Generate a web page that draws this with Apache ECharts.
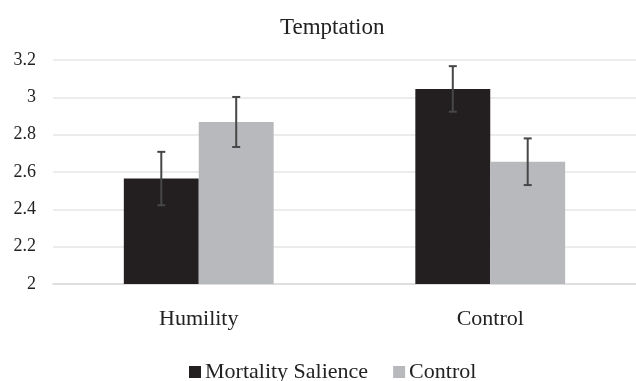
<!DOCTYPE html>
<html><head><meta charset="utf-8">
<script src="https://cdn.jsdelivr.net/npm/echarts@6/dist/echarts.min.js"></script>
<style>html,body{margin:0;padding:0;background:#fff}#c{width:636px;height:381px}</style>
</head><body><div id="c"></div>
<script>
var categories = ['Humility', 'Control'];
var seriesNames = ['Mortality Salience', 'Control'];
var msValues = [2.565, 3.045];
var controlValues = [2.868, 2.655];
var msErrors = [0.143, 0.122];
var controlErrors = [0.134, 0.125];
var yTicks = [2, 2.2, 2.4, 2.6, 2.8, 3, 3.2];

var gapPct = 48.6;
var font = 'Liberation Serif';

function errorSeries(values, errors, side) {
  return {
    type: 'custom',
    silent: true,
    z: 10,
    data: values.map(function (v, i) { return [i, v - errors[i], v + errors[i]]; }),
    renderItem: function (params, api) {
      var band = api.size([1, 0])[0];
      var barW = band * (1 - gapPct / 100) / 2;
      var c = api.coord([api.value(0), api.value(1)]);
      var x = c[0] + side * barW / 2;
      var lo = api.coord([api.value(0), api.value(1)])[1];
      var hi = api.coord([api.value(0), api.value(2)])[1];
      var cap = 4;
      var st = { stroke: '#474747', lineWidth: 2 };
      return {
        type: 'group',
        children: [
          { type: 'line', shape: { x1: x, y1: lo, x2: x, y2: hi }, style: st },
          { type: 'line', shape: { x1: x - cap, y1: lo, x2: x + cap, y2: lo }, style: st },
          { type: 'line', shape: { x1: x - cap, y1: hi, x2: x + cap, y2: hi }, style: st }
        ]
      };
    }
  };
}

var chart = echarts.init(document.getElementById('c'), null, { renderer: 'canvas' });
chart.setOption({
  animation: false,
  backgroundColor: '#fff',
  title: {
    text: 'Temptation', left: 275, top: 11,
    textStyle: { fontFamily: font, fontSize: 23, fontWeight: 'normal', color: '#222' }
  },
  legend: {
    data: seriesNames, top: 356, left: 184,
    itemWidth: 12, itemHeight: 12, itemGap: 25, icon: 'rect',
    textStyle: { fontFamily: font, fontSize: 22, color: '#222', padding: [0, 0, 0, -1] }
  },
  grid: { left: 53, width: 588, top: 60, height: 224 },
  xAxis: {
    type: 'category', data: categories,
    axisLine: { lineStyle: { color: '#d9d9d9', width: 1.5 } },
    axisTick: { show: false },
    axisLabel: { fontFamily: font, fontSize: 22, color: '#222', margin: 24 }
  },
  yAxis: {
    type: 'value', min: 2, max: 3.2, interval: 0.2,
    axisLine: { show: false }, axisTick: { show: false },
    splitLine: { lineStyle: { color: '#e6e6e6', width: 1.5 } },
    axisLabel: {
      fontFamily: font, fontSize: 18, color: '#222', margin: 17,
      formatter: function (v) { var r = Math.round(v * 10) / 10; return yTicks.indexOf(r) >= 0 ? String(r) : ''; }
    }
  },
  series: [
    { name: seriesNames[0], type: 'bar', data: msValues, barGap: '0%', barCategoryGap: gapPct + '%',
      itemStyle: { color: '#231f20' } },
    { name: seriesNames[1], type: 'bar', data: controlValues, barGap: '0%', barCategoryGap: gapPct + '%',
      itemStyle: { color: '#b8b9bc' } },
    errorSeries(msValues, msErrors, -1),
    errorSeries(controlValues, controlErrors, 1)
  ]
});
</script>
</body></html>
